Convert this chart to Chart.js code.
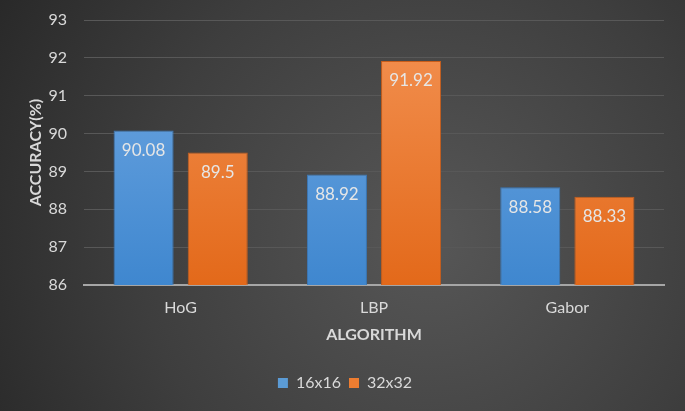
<!DOCTYPE html>
<html>
<head>
<meta charset="utf-8">
<script src="https://cdn.jsdelivr.net/npm/chart.js@4/dist/chart.umd.min.js"></script>
<style>
html,body{margin:0;padding:0;background:#333;}
#wrap{width:685px;height:411px;}
</style>
</head>
<body>
<div id="wrap"><canvas id="c" width="685" height="411"></canvas></div>
<script>
const categories = ["HoG", "LBP", "Gabor"];
const series16 = [90.08, 88.92, 88.58];
const series32 = [89.5, 91.92, 88.33];
const seriesNames = ["16x16", "32x32"];
const yMin = 86, yMax = 93;

const FONT = "Lato, 'Open Sans', sans-serif";
const TXT = "#d9d9d9";

const bgPlugin = {
  id: "bg",
  beforeDraw(chart) {
    const ctx = chart.ctx, w = chart.width, h = chart.height;
    ctx.save();
    const g = ctx.createRadialGradient(430, 240, 20, 430, 240, 560);
    g.addColorStop(0, "#555555");
    g.addColorStop(0.5, "#3e3e3e");
    g.addColorStop(1, "#222222");
    ctx.fillStyle = g;
    ctx.fillRect(0, 0, w, h);
    ctx.restore();
  }
};

const labelPlugin = {
  id: "vals",
  afterDatasetsDraw(chart) {
    const ctx = chart.ctx;
    ctx.save();
    ctx.font = "17px " + FONT;
    ctx.fillStyle = "#e6e6e6";
    ctx.textAlign = "center";
    ctx.textBaseline = "middle";
    chart.data.datasets.forEach((ds, i) => {
      chart.getDatasetMeta(i).data.forEach((el, j) => {
        ctx.fillText(String(ds.data[j]), el.x, el.y + 20);
      });
    });
    ctx.restore();
  }
};

function grad(chart, top, bottom) {
  const a = chart.chartArea;
  if (!a) return top;
  const g = chart.ctx.createLinearGradient(0, a.top, 0, a.bottom);
  g.addColorStop(0, top);
  g.addColorStop(1, bottom);
  return g;
}

new Chart(document.getElementById("c"), {
  type: "bar",
  data: {
    labels: categories,
    datasets: [
      {
        label: seriesNames[0],
        data: series16,
        backgroundColor: (c) => grad(c.chart, "#72a9e3", "#3f87cf"),
        borderColor: "#3a78b8",
        borderWidth: 1,
        categoryPercentage: 0.767,
        barPercentage: 0.81
      },
      {
        label: seriesNames[1],
        data: series32,
        backgroundColor: (c) => grad(c.chart, "#f39253", "#e3691a"),
        borderColor: "#c85d1a",
        borderWidth: 1,
        categoryPercentage: 0.767,
        barPercentage: 0.81
      }
    ]
  },
  options: {
    responsive: false,
    animation: false,
    layout: { padding: { top: 20, right: 21, left: 26, bottom: 10 } },
    plugins: {
      legend: {
        position: "bottom",
        labels: {
          color: TXT,
          font: { family: FONT, size: 16 },
          boxWidth: 10,
          boxHeight: 10,
          padding: 8,
          generateLabels(chart) {
            const cols = ["#5b9bd5", "#ed7d31"];
            return chart.data.datasets.map((ds, i) => ({
              text: ds.label, fillStyle: cols[i], strokeStyle: cols[i],
              lineWidth: 0, fontColor: TXT, datasetIndex: i, hidden: false
            }));
          }
        }
      },
      tooltip: { enabled: false }
    },
    scales: {
      x: {
        grid: { display: false, drawTicks: false },
        border: { display: true, color: "#a6a6a6", width: 2 },
        ticks: { color: TXT, font: { family: FONT, size: 16 }, padding: 13 },
        title: { display: true, text: "ALGORITHM", color: TXT, font: { family: FONT, size: 16, weight: "bold" }, padding: { top: 4, bottom: 23 } },
        afterFit(scale) { scale.height = 82; scale.paddingLeft = 0; scale.paddingRight = 0; }
      },
      y: {
        min: yMin, max: yMax,
        ticks: { stepSize: 1, color: TXT, font: { family: FONT, size: 16 }, padding: 17 },
        grid: { color: "#585858", lineWidth: 1, drawTicks: false },
        border: { display: false },
        title: { display: true, text: "ACCURACY(%)", color: TXT, font: { family: FONT, size: 16, weight: "bold" }, padding: { top: 0, bottom: 4 } },
        afterFit(scale) { scale.width = 58; scale.paddingTop = 0; scale.paddingBottom = 0; }
      }
    }
  },
  plugins: [bgPlugin, labelPlugin]
});
</script>
</body>
</html>
